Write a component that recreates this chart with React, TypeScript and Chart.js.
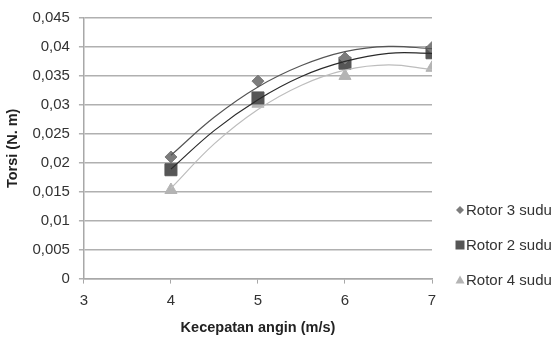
import React, { useEffect, useRef } from "react";
import { Chart, registerables } from "chart.js";

Chart.register(...registerables);

const windSpeeds = [4, 5, 6, 7];
const rotor3 = [0.021, 0.0341, 0.0381, 0.0399];
const rotor2 = [0.0188, 0.0312, 0.0372, 0.039];
const rotor4 = [0.0153, 0.0302, 0.035, 0.0364];

// polynomial trend lines
const trendX = [4, 4.5, 5, 5.5, 6, 6.5, 7];
const trend3 = [0.0213, 0.0279, 0.0331, 0.0368, 0.0392, 0.0401, 0.0397];
const trend2 = [0.0189, 0.0256, 0.0309, 0.0349, 0.0375, 0.0389, 0.0389];
const trend4 = [0.0156, 0.0233, 0.0292, 0.0334, 0.036, 0.0369, 0.0361];

const seriesNames = ["Rotor 3 sudu", "Rotor 2 sudu", "Rotor 4 sudu"];

const pts = (xs: number[], ys: number[]) => xs.map((x, i) => ({ x, y: ys[i] }));

const FONT = "'Liberation Sans', Arial, sans-serif";

const sideLegend = {
  id: "sideLegend",
  afterDraw(chart: any) {
    const ctx = chart.ctx as CanvasRenderingContext2D;
    const ds = chart.data.datasets.slice(0, 3);
    const x0 = 460;
    const y0 = 210;
    const gap = 35;
    ctx.save();
    ds.forEach((d: any, i: number) => {
      const y = y0 + i * gap;
      ctx.fillStyle = d.backgroundColor;
      ctx.beginPath();
      if (d.pointStyle === "rectRot") {
        ctx.moveTo(x0, y - 4);
        ctx.lineTo(x0 + 4, y);
        ctx.lineTo(x0, y + 4);
        ctx.lineTo(x0 - 4, y);
        ctx.closePath();
      } else if (d.pointStyle === "rect") {
        ctx.rect(x0 - 4.5, y - 4.5, 9, 9);
      } else {
        ctx.moveTo(x0, y - 4.5);
        ctx.lineTo(x0 + 4.5, y + 3.5);
        ctx.lineTo(x0 - 4.5, y + 3.5);
        ctx.closePath();
      }
      ctx.fill();
      ctx.fillStyle = "#333333";
      ctx.font = `15px ${FONT}`;
      ctx.textBaseline = "middle";
      ctx.textAlign = "left";
      ctx.fillText(d.label, x0 + 6, y + 1);
    });
    ctx.restore();
  },
};

export default function App() {
  const ref = useRef<HTMLCanvasElement | null>(null);
  useEffect(() => {
    document.body.style.margin = "0";
    const ctx = ref.current!;
    const chart = new Chart(ctx, {
      type: "scatter",
      data: {
        datasets: [
          {
            label: seriesNames[0],
            data: pts(windSpeeds, rotor3),
            pointStyle: "rectRot",
            pointRadius: 6,
            backgroundColor: "#7c7c7c",
            borderColor: "#7c7c7c",
            showLine: false,
            order: 1,
          },
          {
            label: seriesNames[1],
            data: pts(windSpeeds, rotor2),
            pointStyle: "rect",
            pointRadius: 8.5,
            backgroundColor: "#565656",
            borderColor: "#565656",
            showLine: false,
            order: 1,
          },
          {
            label: seriesNames[2],
            data: pts(windSpeeds, rotor4),
            pointStyle: "triangle",
            pointRadius: 7,
            backgroundColor: "#b4b4b4",
            borderColor: "#b4b4b4",
            showLine: false,
            order: 1,
          },
          {
            label: "trend3",
            data: pts(trendX, trend3),
            showLine: true,
            pointRadius: 0,
            borderColor: "#555555",
            borderWidth: 1.2,
            tension: 0.4,
            order: 0,
          },
          {
            label: "trend2",
            data: pts(trendX, trend2),
            showLine: true,
            pointRadius: 0,
            borderColor: "#2a2a2a",
            borderWidth: 1.2,
            tension: 0.4,
            order: 0,
          },
          {
            label: "trend4",
            data: pts(trendX, trend4),
            showLine: true,
            pointRadius: 0,
            borderColor: "#bdbdbd",
            borderWidth: 1.2,
            tension: 0.4,
            order: 0,
          },
        ],
      },
      options: {
        animation: false,
        responsive: false,
        maintainAspectRatio: false,
        layout: { padding: { top: 10, right: 123, left: 2, bottom: 5 } },
        plugins: {
          tooltip: { enabled: false },
          legend: { display: false },
        },
        scales: {
          x: {
            type: "linear",
            min: 3,
            max: 7,
            ticks: {
              stepSize: 1,
              color: "#333333",
              font: { family: FONT, size: 15 },
              padding: 8,
            },
            grid: {
              drawOnChartArea: false,
              drawTicks: true,
              tickLength: 5,
              color: "#a8a8a8",
            },
            border: { color: "#a8a8a8", width: 1.5 },
            title: {
              display: true,
              text: "Kecepatan angin (m/s)",
              color: "#222222",
              font: { family: FONT, size: 14.5, weight: "bold" },
              padding: { top: 2, bottom: 0 },
            },
          },
          y: {
            min: 0,
            max: 0.045,
            ticks: {
              stepSize: 0.005,
              color: "#333333",
              font: { family: FONT, size: 15 },
              padding: 9,
              callback: (v: any) => {
                const n = Math.round(Number(v) * 1000) / 1000;
                return String(n).replace(".", ",");
              },
            },
            grid: { color: "#b0b0b0", lineWidth: 1.5, tickLength: 5 },
            border: { color: "#a8a8a8", width: 1.5 },
            title: {
              display: true,
              text: "Torsi (N. m)",
              color: "#222222",
              font: { family: FONT, size: 14.5, weight: "bold" },
              padding: { top: 2, bottom: 2 },
            },
          },
        },
      },
      plugins: [sideLegend],
    });
    return () => chart.destroy();
  }, []);
  return (
    <div style={{ width: 555, height: 342, background: "#fff" }}>
      <canvas ref={ref} width={555} height={342} style={{ display: "block" }} />
    </div>
  );
}
